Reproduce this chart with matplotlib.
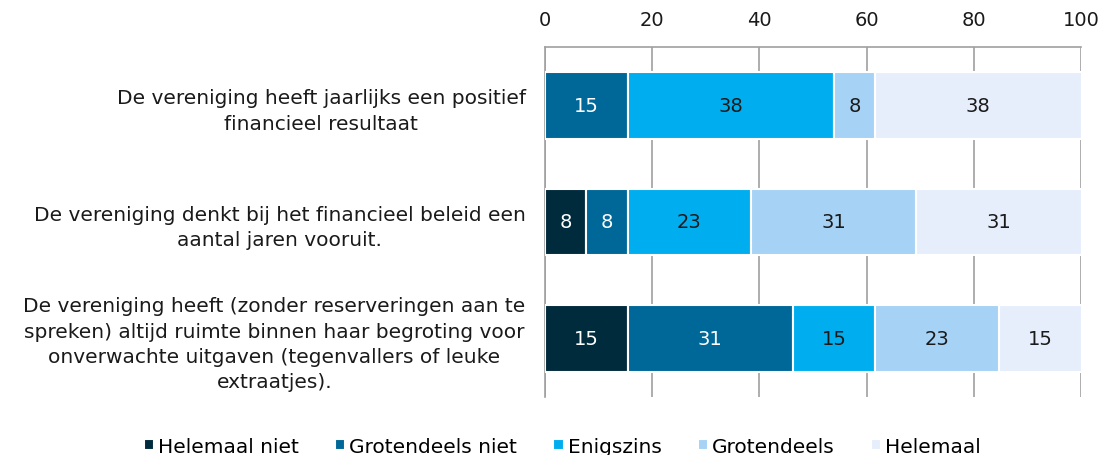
import matplotlib
matplotlib.use("Agg")
import matplotlib.pyplot as plt
import numpy as np

# data (percentages, n = 13 respondents)
statements = [
    "De vereniging heeft jaarlijks een positief\nfinancieel resultaat",
    "De vereniging denkt bij het financieel beleid een\naantal jaren vooruit.",
    "De vereniging heeft (zonder reserveringen aan te\nspreken) altijd ruimte binnen haar begroting voor\nonverwachte uitgaven (tegenvallers of leuke\nextraatjes).",
]
categories = ["Helemaal niet", "Grotendeels niet", "Enigszins", "Grotendeels", "Helemaal"]
helemaal_niet    = [0.0, 7.7, 15.4]
grotendeels_niet = [15.4, 7.7, 30.8]
enigszins        = [38.5, 23.1, 15.4]
grotendeels      = [7.7, 30.8, 23.1]
helemaal         = [38.5, 30.8, 15.4]
series = [helemaal_niet, grotendeels_niet, enigszins, grotendeels, helemaal]

colors = ["#002b3d", "#006898", "#00aeef", "#a6d3f5", "#e6eefc"]
text_colors = ["white", "white", "#1a1a1a", "#1a1a1a", "#1a1a1a"]

plt.rcParams["font.family"] = "DejaVu Sans"
fig = plt.figure(figsize=(11.07, 4.56), dpi=100)
ax = fig.add_axes([545 / 1107, 1 - 398 / 456, 536 / 1107, 350 / 456])

y = np.arange(len(statements))
left = np.zeros(len(statements))
for vals, col, tcol, name in zip(series, colors, text_colors, categories):
    vals = np.array(vals)
    bars = ax.barh(y, vals, left=left, height=0.57, color=col,
                   edgecolor="white", linewidth=1.5, label=name, zorder=3)
    for b, v in zip(bars, vals):
        if v > 0:
            ax.text(b.get_x() + b.get_width() / 2, b.get_y() + b.get_height() / 2,
                    f"{v:.0f}", ha="center", va="center", fontsize=14,
                    color=tcol, zorder=4)
    left += vals

ax.set_xlim(0, 100)
ax.set_ylim(2.5, -0.5)
ax.set_xticks([0, 20, 40, 60, 80, 100])
ax.xaxis.tick_top()
ax.tick_params(axis="x", length=0, pad=13, labelsize=14, colors="#1a1a1a")
ax.tick_params(axis="y", length=0, pad=14)
ax.set_yticks(y)
ax.set_yticklabels(statements, fontsize=14.5, color="#1a1a1a",
                   multialignment="center", linespacing=1.42)
ax.grid(axis="x", color="#a0a0a0", linewidth=1.2, zorder=0)
for s in ["right", "bottom"]:
    ax.spines[s].set_visible(False)
for s in ["top", "left"]:
    ax.spines[s].set_color("#a0a0a0")
    ax.spines[s].set_linewidth(1.2)

fig.legend(loc="upper center", bbox_to_anchor=(0.508, 0.058), ncol=5,
           frameon=False, prop={"size": 14.5},
           handlelength=0.5, handleheight=0.5,
           handletextpad=0.2, columnspacing=1.8, borderaxespad=0)

fig.savefig("out.png", dpi=100)
